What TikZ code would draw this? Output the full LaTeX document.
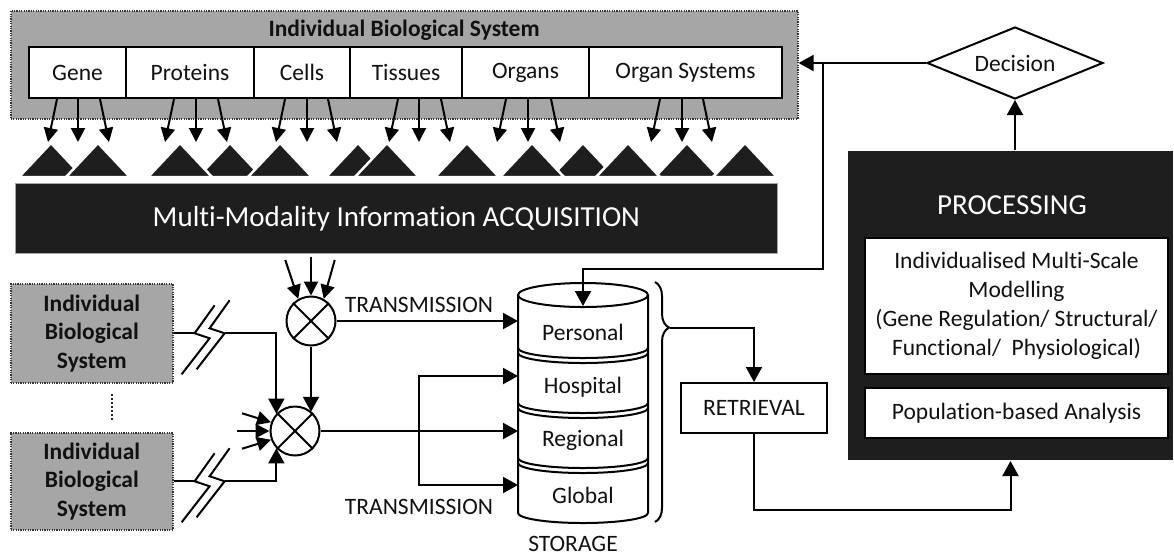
\documentclass[tikz,border=0pt]{standalone}
\usepackage{fontspec}
\setmainfont{Carlito}[Ligatures=NoCommon]
\usetikzlibrary{arrows.meta,shapes.geometric,decorations.pathreplacing,calc}
\definecolor{dk}{HTML}{1E1E1E}
\definecolor{gr}{HTML}{A6A6A6}
\definecolor{tx}{HTML}{111111}
\newcommand\threearr[4]{%
  \draw[sarr] ([xshift=#2pt]#1.south west) -- ++(-9,43);
  \draw[sarr] ([xshift=#3pt]#1.south west) -- ++(0,43);
  \draw[sarr] ([xshift=#4pt]#1.south west) -- ++(9,43);
}
\newcommand\brkmark[1]{%
  \draw ([shift={(41,-28)}]#1.east) -- ++(-20,28) -- ++(15,5) -- ++(-28,36);
  \draw ([shift={(56,-33)}]#1.east) -- ++(-20,28) -- ++(15,5) -- ++(-28,36);
}
\begin{document}
\begin{tikzpicture}[x=1pt,y=-1pt, line width=2pt,
  font=\fontsize{23.5}{28.5}\selectfont, text=tx,
  arr/.style={-{Triangle[length=15pt,width=16pt]}},
  sarr/.style={-{Triangle[length=14pt,width=14pt]}},
  wbox/.style={draw=black, fill=white, line width=2pt, inner sep=0pt, anchor=north west, align=center},
  gbox/.style={draw=black!80, fill=gr, dash pattern=on 1.2pt off 1.2pt, line width=1.6pt, inner sep=0pt, anchor=north west, align=center},
  dkbox/.style={fill=dk, draw=none, inner sep=0pt, anchor=north west, text=white},
  tri/.style={fill=dk, draw=white, line width=2.5pt, line join=miter},
  otimes/.style={circle, draw, fill=white, minimum size=49pt, inner sep=0pt},
  big/.style={font=\fontsize{29}{34}\selectfont},
  lbl/.style={inner sep=0pt}]
\useasboundingbox (0,0) rectangle (1174,558);

% ---------- top individual biological system ----------
\node[gbox, minimum width=787, minimum height=108] (ibs) at (10,10) {};
\node[lbl, font=\bfseries\fontsize{23.5}{28}\selectfont] (ibstitle) at (404,30) {Individual Biological System};
\node[wbox, minimum width=97,  minimum height=51] (gene)   at (28,46)  {Gene};
\node[wbox, minimum width=128, minimum height=51] (prot)   at (125,46) {Proteins};
\node[wbox, minimum width=96,  minimum height=51] (cells)  at (253,46) {Cells};
\node[wbox, minimum width=112, minimum height=51] (tiss)   at (349,46) {Tissues};
\node[wbox, minimum width=127, minimum height=51] (organs) at (461,46) {Organs};
\node[wbox, minimum width=193, minimum height=51] (osys)   at (588,46) {Organ Systems};

\threearr{gene}{29}{50}{72}
\threearr{prot}{49}{71}{93}
\threearr{cells}{32}{54}{75}
\threearr{tiss}{49}{70}{92}
\threearr{organs}{45}{67}{90}
\threearr{osys}{72}{94}{115}

% ---------- sensor triangles ----------
\foreach \a in {51,230,583,687,98,180,280,358,387,467,532,628,745}
  \filldraw[tri] ({\a-32},177) -- (\a,143) -- ({\a+32},177) -- cycle;

% ---------- acquisition ----------
\node[dkbox, draw=black!35, line width=0.8pt, minimum width=762, minimum height=70, big] (acq) at (15,183) {Multi-Modality Information ACQUISITION};

% ---------- storage cylinder ----------
\coordinate (cylc) at (583,295);
\draw[fill=white] (518,295) -- (518,513) arc[start angle=180, end angle=0, x radius=65, y radius=10] -- (648,295);
\draw[fill=white] (cylc) ellipse [x radius=65, y radius=12];
\foreach \yy in {348,353,403,408,458,463}
  \draw (518,\yy) arc[start angle=180, end angle=0, x radius=65, y radius=10];
\node[lbl] (personal) at (583,332) {Personal};
\node[lbl] (hospital) at (583,387) {Hospital};
\node[lbl] (regional) at (583,440) {Regional};
\node[lbl] (global)   at (583,495) {Global};
\node[lbl] (storage)  at (573,544) {STORAGE};

\coordinate (persin) at (518,321);
\coordinate (hospin) at (518,376);
\coordinate (regin)  at (518,431);
\coordinate (globin) at (518,485);

% ---------- decision & processing ----------
\node[diamond, aspect=2.4, draw, fill=white, minimum width=176, minimum height=72, inner sep=0pt] (dec) at (1015,63) {Decision};
\node[dkbox, minimum width=325, minimum height=309] (proc) at (847,150) {};
\node[lbl, text=white, big] (proctitle) at (1012,205) {PROCESSING};
\node[wbox, minimum width=303, minimum height=136, font=\fontsize{23.5}{29}\selectfont] (model) at (864,237)
  {Individualised Multi-Scale\\Modelling\\(Gene Regulation/ Structural/\\Functional/~~Physiological)};
\node[wbox, minimum width=303, minimum height=50] (pop) at (864,387) {Population-based Analysis};

\draw[arr] (dec.south |- proc.north) -- (dec.south);
\draw[arr] (dec.west) -- (ibs.east |- dec.west);
\coordinate (fb) at (823,63);
\coordinate (fbc) at (823,269);
\coordinate (cyltop) at (583,306);
\draw[arr] (fb) -- (fbc) -| (cyltop);

% ---------- combiners ----------
\node[otimes] (ot1) at (311,321) {};
\node[otimes] (ot2) at (295,431) {};
\draw (ot1.north west) -- (ot1.south east) (ot1.north east) -- (ot1.south west);
\draw (ot2.north west) -- (ot2.south east) (ot2.north east) -- (ot2.south west);

\draw[sarr] (ot1.120) ++(-13,-39) -- (ot1.120);
\draw[sarr] (ot1.north) ++(0,-39) -- (ot1.north);
\draw[sarr] (ot1.60) ++(11,-39) -- (ot1.60);
\draw[sarr] (ot2.160) ++(-29,-9) -- (ot2.160);
\draw[sarr] (ot2.west) ++(-33,0) -- (ot2.west);
\draw[sarr] (ot2.200) ++(-29,9) -- (ot2.200);

\draw[arr] (ot1.south) -- (ot1.south |- ot2.49);
\draw[arr] (ot1.east) -- (persin);
\draw[arr] (ot2.east) -- (regin);
\node[lbl] (trans1) at (419,305) {TRANSMISSION};
\node[lbl] (trans2) at (419,507) {TRANSMISSION};
\coordinate (tj) at (419,431);
\draw[arr] (tj) |- (hospin);
\draw[arr] (tj) |- (globin);

% ---------- other individual systems ----------
\node[gbox, minimum width=162, minimum height=99, font=\bfseries\fontsize{23.5}{28.5}\selectfont] (bib1) at (10,283) {Individual\\Biological\\System};
\node[gbox, minimum width=162, minimum height=97, font=\bfseries\fontsize{23.5}{28.5}\selectfont] (bib2) at (10,432) {Individual\\Biological\\System};
\draw[draw=black!85, dash pattern=on 2pt off 2pt, line width=2.4pt, shorten <=10pt, shorten >=12pt] ([xshift=20pt]bib1.south) -- ([xshift=20pt]bib2.north);

\draw (bib1.east) -- ++(21,0);
\brkmark{bib1}
\draw[arr] ([xshift=51pt]bib1.east) -| (ot2.137);
\draw (bib2.east) -- ++(21,0);
\brkmark{bib2}
\draw[arr] ([xshift=51pt]bib2.east) -| (ot2.223);

% ---------- retrieval ----------
\draw[decorate, decoration={brace, amplitude=14pt, aspect=0.19}] (655,282) -- (655,522);
\coordinate (bt) at (670,328);
\node[wbox, minimum width=146, minimum height=50] (retr) at (680,382) {RETRIEVAL};
\draw[arr] (bt) -| (retr.north);
\draw[arr] (retr.south) -- ++(0,76) -| (proc.south);
\end{tikzpicture}
\end{document}
